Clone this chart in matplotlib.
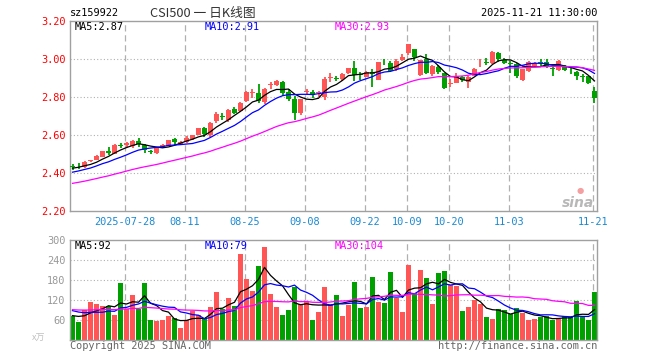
import numpy as np
import pandas as pd
import matplotlib
matplotlib.use("Agg")
import matplotlib.pyplot as plt

# ---------------- data ----------------
open_ = [2.436, 2.437, 2.429, 2.462, 2.470, 2.485, 2.516, 2.500, 2.547, 2.545,
         2.540, 2.569, 2.548, 2.511, 2.504, 2.534, 2.544, 2.579, 2.551, 2.562,
         2.579, 2.600, 2.635, 2.600, 2.673, 2.697, 2.678, 2.738, 2.726, 2.778,
         2.818, 2.818, 2.773, 2.863, 2.862, 2.879, 2.825, 2.787, 2.713, 2.825,
         2.825, 2.822, 2.800, 2.898, 2.896, 2.892, 2.923, 2.949, 2.919, 2.906,
         2.930, 2.891, 2.983, 2.979, 2.947, 2.993, 3.032, 3.049, 2.914, 3.000,
         2.921, 2.958, 2.923, 2.868, 2.870, 2.905, 2.877, 2.912, 2.981, 2.981,
         2.979, 3.032, 2.996, 2.976, 2.970, 2.886, 2.935, 2.961, 2.980, 2.982,
         2.949, 2.940, 2.958, 2.942, 2.930, 2.907, 2.909, 2.830]
high = [2.447, 2.450, 2.462, 2.470, 2.492, 2.517, 2.534, 2.550, 2.555, 2.560,
        2.571, 2.582, 2.552, 2.522, 2.538, 2.552, 2.575, 2.582, 2.570, 2.592,
        2.600, 2.638, 2.640, 2.667, 2.722, 2.713, 2.735, 2.746, 2.772, 2.830,
        2.843, 2.865, 2.846, 2.878, 2.890, 2.882, 2.839, 2.804, 2.790, 2.840,
        2.836, 2.830, 2.905, 2.927, 2.910, 2.923, 2.953, 2.986, 2.933, 2.935,
        2.944, 2.985, 3.000, 2.988, 2.997, 3.023, 3.079, 3.053, 2.996, 3.023,
        2.965, 2.965, 2.926, 2.895, 2.923, 2.909, 2.909, 2.951, 3.000, 3.005,
        3.040, 3.035, 3.005, 2.988, 2.979, 2.947, 2.988, 2.985, 3.000, 3.000,
        2.967, 2.993, 2.965, 2.954, 2.935, 2.919, 2.912, 2.853]
low = [2.417, 2.420, 2.425, 2.455, 2.468, 2.483, 2.496, 2.498, 2.530, 2.535,
       2.532, 2.534, 2.504, 2.500, 2.498, 2.530, 2.542, 2.548, 2.548, 2.555,
       2.574, 2.597, 2.590, 2.588, 2.661, 2.678, 2.670, 2.710, 2.720, 2.772,
       2.796, 2.770, 2.762, 2.840, 2.858, 2.804, 2.777, 2.678, 2.703, 2.813,
       2.796, 2.800, 2.785, 2.878, 2.882, 2.883, 2.918, 2.883, 2.889, 2.902,
       2.853, 2.887, 2.965, 2.930, 2.935, 2.988, 3.018, 2.988, 2.909, 2.918,
       2.909, 2.918, 2.839, 2.853, 2.870, 2.877, 2.844, 2.909, 2.958, 2.967,
       2.975, 2.982, 2.970, 2.926, 2.900, 2.882, 2.930, 2.958, 2.958, 2.954,
       2.912, 2.937, 2.937, 2.919, 2.889, 2.879, 2.865, 2.765]
close = [2.433, 2.434, 2.459, 2.465, 2.490, 2.515, 2.505, 2.548, 2.544, 2.555,
         2.569, 2.551, 2.522, 2.509, 2.530, 2.548, 2.574, 2.565, 2.565, 2.586,
         2.597, 2.635, 2.603, 2.663, 2.708, 2.694, 2.730, 2.717, 2.769, 2.825,
         2.824, 2.778, 2.843, 2.866, 2.883, 2.822, 2.790, 2.713, 2.787, 2.826,
         2.811, 2.825, 2.895, 2.901, 2.894, 2.918, 2.949, 2.914, 2.917, 2.930,
         2.918, 2.982, 2.981, 2.935, 2.988, 3.009, 3.075, 3.009, 2.991, 2.923,
         2.961, 2.930, 2.847, 2.872, 2.912, 2.888, 2.905, 2.947, 2.983, 2.978,
         3.037, 3.000, 2.979, 2.974, 2.909, 2.944, 2.982, 2.979, 2.978, 2.958,
         2.947, 2.988, 2.940, 2.939, 2.909, 2.904, 2.870, 2.795]
volume = [71, 53, 90, 113, 106, 100, 100, 73, 171, 91,
          134, 93, 171, 58, 56, 58, 70, 66, 35, 58,
          86, 75, 62, 98, 144, 93, 126, 100, 257, 182,
          146, 222, 280, 137, 98, 73, 88, 157, 108, 113,
          58, 83, 159, 103, 134, 70, 103, 173, 94, 97,
          188, 114, 110, 203, 126, 82, 224, 139, 209, 185,
          106, 200, 206, 164, 161, 85, 97, 118, 106, 67,
          61, 91, 88, 76, 94, 79, 58, 61, 67, 70,
          58, 61, 70, 67, 116, 67, 58, 143]

# estimated sessions before the visible window (only used to seed moving averages)
prior_close = [2.27, 2.28, 2.26, 2.28, 2.29, 2.30, 2.29, 2.31, 2.30, 2.32,
               2.33, 2.32, 2.33, 2.34, 2.33, 2.34, 2.35, 2.34, 2.36, 2.38,
               2.37, 2.38, 2.39, 2.38, 2.395, 2.41, 2.42, 2.43, 2.432]
prior_volume = [85, 95, 110, 80, 75, 90, 100, 120, 85, 80,
                95, 70, 88, 92, 105, 110, 80, 90, 85, 95,
                95, 110, 100, 105, 100, 65, 80, 70, 74]

# moving-average read-outs as printed on the chart
price_ma_labels = ["MA5:2.87", "MA10:2.91", "MA30:2.93"]
vol_ma_labels = ["MA5:92", "MA10:79", "MA30:104"]

tick_labels = ["2025-07-28", "08-11", "08-25", "09-08", "09-22",
               "10-09", "10-20", "11-03", "11-21"]
tick_index = [9, 19, 29, 39, 49, 56, 63, 73, 87]

price_ticks = [2.20, 2.40, 2.60, 2.80, 3.00, 3.20]
vol_ticks = [60, 120, 180, 240, 300]

# ---------------- computations ----------------
n = len(close)
x = np.arange(n)
o = np.array(open_); h = np.array(high); l = np.array(low); c = np.array(close)
v = np.array(volume, dtype=float)

full_c = pd.Series(prior_close + close)
full_v = pd.Series(prior_volume + volume, dtype=float)
k = len(prior_close)
ma = {w: full_c.rolling(w).mean().values[k:] for w in (5, 10, 30)}
vma = {w: full_v.rolling(w).mean().values[k:] for w in (5, 10, 30)}

RED = "#ff5555"
GREEN = "#00a000"
up = c >= o
colors = np.where(up, RED, GREEN)
MA_COLORS = ["black", "#0000ff", "#ff00ff"]

MONO = "DejaVu Sans Mono"
GRID = "#b0b0b0"
BORDER = "#a0a0a0"

fig = plt.figure(figsize=(6.6, 3.6), dpi=100)
W, H = 660.0, 360.0
xl, xr = 70.0, 597.0
ax = fig.add_axes([xl / W, (H - 211.0) / H, (xr - xl) / W, 190.3 / H])
axv = fig.add_axes([xl / W, (H - 339.5) / H, (xr - xl) / W, 99.5 / H])

xlim = ((xl - 72.5) / 6.0, (xr - 72.5) / 6.0)
grid_x = [t - 0.3 for t in tick_index]

for a in (ax, axv):
    a.set_xlim(*xlim)
    for s in a.spines.values():
        s.set_color(BORDER)
        s.set_linewidth(1.0)
    for gx in grid_x:
        a.axvline(gx, color=GRID, lw=0.9, ls=(0, (5, 3)), zorder=0)

# ---- price panel ----
ax.set_ylim(2.20, 3.20)
for py in price_ticks[1:-1]:
    ax.axhline(py, color=GRID, lw=0.8, ls=(0, (1, 2)), zorder=0)

ax.vlines(x, l, h, colors=colors, lw=1.3, zorder=2)
body = np.maximum(np.abs(c - o), 0.004)
ax.bar(x, body, bottom=np.minimum(o, c), width=0.83, color=colors,
       edgecolor=colors, linewidth=0, zorder=3)

for w, col in zip((5, 10, 30), MA_COLORS):
    ax.plot(x, ma[w], color=col, lw=0.9, zorder=4)

ax.set_yticks(price_ticks)
ax.set_yticklabels([f"{t:.2f}" for t in price_ticks], color="#ff0000",
                   fontfamily=MONO, fontsize=7.4)
ax.set_xticks(grid_x)
ax.set_xticklabels(tick_labels, color="#1a8ad4", fontfamily=MONO, fontsize=7.4)
ax.tick_params(axis="y", length=0, pad=3.2)
ax.tick_params(axis="x", length=0, pad=4.5)

for xp, lab, col in zip((75, 205, 335), price_ma_labels, MA_COLORS):
    fig.text(xp / W, (H - 26.5) / H, lab, color=col, fontfamily=MONO,
             fontsize=7.4, va="center", ha="left")

# sina watermark
fig.text(594 / W, (H - 203) / H, "sina", color="#b8b8b8", fontsize=10,
         fontstyle="italic", fontweight="bold", ha="right", va="center")
fig.text(580 / W, (H - 191) / H, "\u25CF", color="#f4a0a0", fontsize=6,
         ha="center", va="center")

# ---- volume panel ----
axv.set_ylim(0, 300)
for vy in vol_ticks[:-1]:
    axv.axhline(vy, color=GRID, lw=0.8, ls=(0, (1, 2)), zorder=0)
axv.bar(x, v, width=0.83, color=colors, linewidth=0, zorder=2)
for w, col in zip((5, 10, 30), MA_COLORS):
    axv.plot(x, vma[w], color=col, lw=0.9, zorder=4)
axv.set_yticks(vol_ticks)
axv.set_yticklabels([str(t) for t in vol_ticks], color="#999999",
                    fontfamily=MONO, fontsize=7.4)
axv.set_xticks([])
axv.tick_params(axis="y", length=0, pad=3.2)

for xp, lab, col in zip((75, 205, 335), vol_ma_labels, MA_COLORS):
    fig.text(xp / W, (H - 246.3) / H, lab, color=col, fontfamily=MONO,
             fontsize=7.4, va="center", ha="left")
fig.text(45 / W, (H - 338) / H, "x万", color="#c0c0c0",
         fontfamily=["Noto Sans CJK SC", "DejaVu Sans"], fontsize=6.5,
         va="center", ha="right")

fig.text(70 / W, (H - 346) / H, "Copyright 2025 SINA.COM", color="#666666",
         fontfamily=MONO, fontsize=7.4, va="center", ha="left")
fig.text(597 / W, (H - 346) / H, "http://finance.sina.com.cn", color="#666666",
         fontfamily=MONO, fontsize=7.4, va="center", ha="right")

# ---- header ----
fig.text(70 / W, (H - 13.5) / H, "sz159922", color="black", fontfamily=MONO,
         fontsize=7.4, va="center", ha="left")
fig.text(150 / W, (H - 13.5) / H, "CSI500 一 日K线图", color="#333333",
         fontfamily=["Noto Sans CJK SC", "DejaVu Sans"], fontsize=9.2,
         va="center", ha="left")
fig.text(597 / W, (H - 13.5) / H, "2025-11-21 11:30:00", color="black",
         fontfamily=MONO, fontsize=7.4, va="center", ha="right")

fig.savefig("out.png", dpi=100, facecolor="white")
